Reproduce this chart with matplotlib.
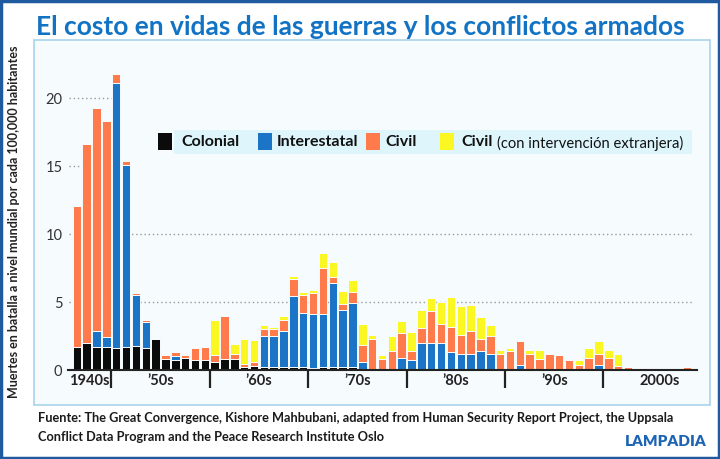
import numpy as np
import matplotlib
matplotlib.use("Agg")
import matplotlib.pyplot as plt
from matplotlib.patches import Rectangle

years = list(range(1946, 2009))

colonial = [1.7, 2.0, 1.7, 1.7, 1.65, 1.7, 1.75, 1.6, 2.3,
            0.8, 0.75, 0.85, 0.75, 0.75, 0.6, 0.8, 0.8, 0.2, 0.3,
            0.25, 0.25, 0.25, 0.25, 0.2, 0.15, 0.2, 0.25, 0.2, 0.2,
            0.05, 0, 0, 0, 0, 0, 0, 0, 0, 0,
            0, 0, 0, 0, 0, 0, 0, 0, 0, 0,
            0, 0, 0, 0, 0, 0, 0, 0, 0, 0,
            0, 0, 0, 0]
interestatal = [0, 0, 1.2, 0.7, 19.5, 13.4, 3.75, 1.9, 0,
                0, 0.25, 0, 0, 0, 0, 0, 0, 0, 0,
                2.25, 2.25, 2.65, 5.2, 4.0, 3.95, 3.9, 6.15, 4.2, 4.7,
                0.55, 0, 0, 0, 0.9, 0.75, 2.0, 2.0, 2.0, 1.35,
                1.2, 1.2, 1.4, 1.2, 0, 0, 0.35, 0, 0, 0,
                0, 0, 0, 0.1, 0.4, 0.1, 0, 0, 0, 0,
                0, 0, 0, 0]
civil = [10.4, 14.6, 16.4, 15.9, 0.6, 0.3, 0.2, 0.2, 0,
         0.3, 0.3, 0.25, 0.85, 0.95, 0.5, 3.2, 0.35, 0.25, 0.3,
         0.55, 0.5, 0.8, 1.25, 1.3, 1.6, 3.4, 0.45, 0.45, 0.85,
         1.25, 2.3, 0.8, 1.4, 1.85, 0.65, 1.1, 2.35, 1.4, 1.85,
         1.4, 1.65, 0.9, 1.3, 1.2, 1.4, 1.8, 1.2, 0.8, 1.2,
         1.1, 0.75, 0.4, 0.8, 0.75, 0.75, 0.3, 0.2, 0.15, 0.12,
         0.1, 0.05, 0.05, 0.2]
civil_ext = [0, 0, 0, 0, 0, 0, 0, 0, 0,
             0, 0, 0, 0, 0, 2.6, 0, 0.75, 1.85, 1.6,
             0.25, 0.15, 0.3, 0.2, 0.25, 0.2, 1.1, 1.1, 1.0, 0.85,
             1.55, 0.3, 0.3, 1.1, 0.85, 1.4, 1.35, 0.95, 1.6, 2.15,
             2.1, 1.95, 1.6, 0.8, 0.3, 0.2, 0, 0.3, 0.7, 0,
             0, 0, 0.3, 0.7, 0.95, 0.65, 0.9, 0, 0, 0,
             0, 0, 0, 0]

series = [colonial, interestatal, civil, civil_ext]
colors = ["#0b0b0b", "#1c74c6", "#ff7b4c", "#fbf723"]
names = ["Colonial", "Interestatal", "Civil", "Civil"]

decade_ticks = [1949.5, 1959.5, 1969.5, 1979.5, 1989.5, 1999.5]
decade_pos = [1947.3, 1954.5, 1964.5, 1974.5, 1984.5, 1994.5, 2005.2]
decade_labels = ["1940s", "\u201950s", "\u201960s", "\u201970s", "\u201980s", "\u201990s", "2000s"]

W, H = 720, 459
panel_bg = "#f6fbfd"
title_blue = "#1273c4"

fig = plt.figure(figsize=(7.2, 4.59), dpi=100)
fig.patch.set_facecolor("white")


def fx(x):
    return x / W


def fy(y):
    return 1 - y / H


# outer frame and chart panel (behind the axes)
fig.patches.append(Rectangle((0.002, 0.003), 0.996, 0.994, transform=fig.transFigure,
                             fill=False, edgecolor="#1f5aa0", lw=2.5, zorder=-2))
fig.patches.append(Rectangle((fx(34), fy(405)), fx(710 - 34), (405 - 40) / H,
                             transform=fig.transFigure, facecolor=panel_bg,
                             edgecolor="#a9d3ea", lw=1.2, zorder=-1))

ax = fig.add_axes([fx(68), fy(370), fx(697 - 68), (370 - 64.3) / H])
ax.set_zorder(1)
ax.set_facecolor(panel_bg)

bottom = np.zeros(len(years))
for vals, c in zip(series, colors):
    ax.bar(years, vals, width=0.86, bottom=bottom, color=c,
           edgecolor=panel_bg, linewidth=0.7, zorder=3)
    bottom += np.array(vals)

# dotted reference lines
ax.hlines([5, 10], 1945.2, 2008.6, colors="#9a9a9a", linestyles=(0, (1, 2)), lw=1, zorder=1)
ax.hlines([15, 20], 1945.2, 1949.5, colors="#9a9a9a", linestyles=(0, (1, 2)), lw=1, zorder=1)

ax.set_xlim(1945.1, 2009)
ax.set_ylim(0, 22.5)
for s in ["left", "right", "top"]:
    ax.spines[s].set_visible(False)
ax.spines["bottom"].set_color("#222222")
ax.spines["bottom"].set_linewidth(1.5)
ax.spines["bottom"].set_zorder(4)

ax.set_yticks([0, 5, 10, 15, 20])
ax.tick_params(axis="y", length=0, pad=4, labelsize=10.5, labelcolor="#333333")
for t in ax.get_yticklabels():
    t.set_fontfamily("Lato")

ax.set_xticks(decade_ticks)
ax.set_xticklabels([""] * len(decade_ticks))
ax.tick_params(axis="x", which="major", length=13, width=1.6, color="#222222", direction="out")
ax.set_xticks(decade_pos, minor=True)
ax.set_xticklabels(decade_labels, minor=True, fontfamily="Lato", fontweight="bold",
                   fontsize=10.5, color="#222222")
ax.tick_params(axis="x", which="minor", length=0, pad=3)

# legend, drawn in figure pixels over the axes
leg_box = Rectangle((fx(174), fy(154)), fx(692 - 174), 24 / H, transform=fig.transFigure,
                    facecolor="#ddf5fb", edgecolor="none", zorder=5)
fig.add_artist(leg_box)
leg_sq = [158, 258, 366, 440]
leg_txt = [181, 277, 385, 461]
for sx, tx, c, n in zip(leg_sq, leg_txt, colors, names):
    fig.add_artist(Rectangle((fx(sx), fy(150)), 14 / W, 17 / H, transform=fig.transFigure,
                             facecolor=c, edgecolor="none", zorder=6))
    fig.text(fx(tx), fy(142), n, ha="left", va="center", fontsize=11.5,
             fontweight="bold", color="#111111", fontfamily="Lato", zorder=7)
fig.text(fx(497), fy(143), "(con intervención extranjera)", ha="left", va="center",
         fontsize=10.6, color="#111111", fontfamily="Lato", zorder=7)

# title
fig.text(0.5, fy(27), "El costo en vidas de las guerras y los conflictos armados",
         ha="center", va="center", fontsize=19, fontweight="bold",
         color=title_blue, fontfamily="Lato")

# y label
fig.text(fx(14), fy(222), "Muertes en batalla a nivel mundial por cada 100,000 habitantes",
         rotation=90, ha="center", va="center", fontsize=9, fontweight="bold",
         color="#222222", fontfamily="Lato")

# source
fig.text(fx(38), fy(418), "Fuente: The Great Convergence, Kishore Mahbubani, adapted from "
         "Human Security Report Project, the Uppsala", ha="left", va="center",
         fontsize=9.2, fontweight="bold", color="#1a1a1a", fontfamily="Lato")
fig.text(fx(38), fy(437), "Conflict Data Program and the Peace Research Institute Oslo",
         ha="left", va="center", fontsize=9.2, fontweight="bold", color="#1a1a1a",
         fontfamily="Lato")
fig.text(fx(707), fy(441), "LAMPADIA", ha="right", va="center", fontsize=11,
         fontweight="heavy", color="#1d64b5", fontfamily="Lato")

fig.savefig("out.png", dpi=100)
